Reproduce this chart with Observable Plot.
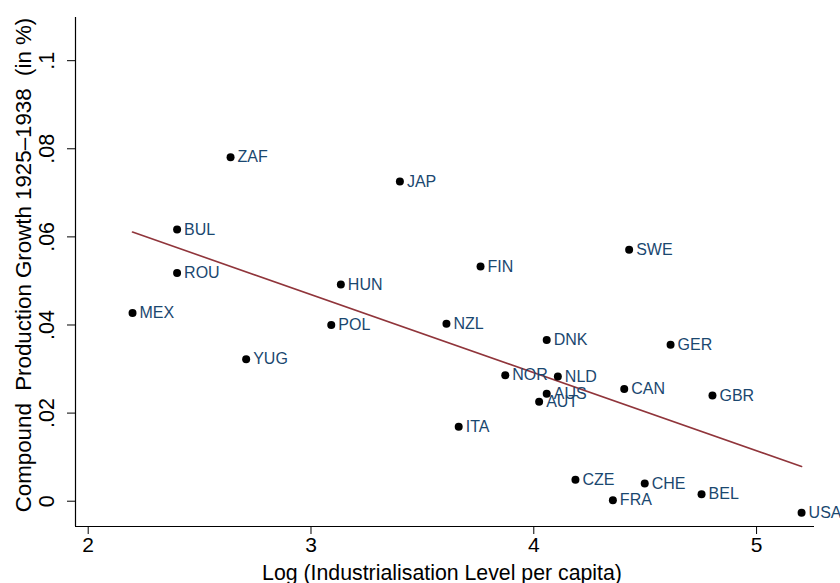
<!DOCTYPE html>
<html>
<head>
<meta charset="utf-8">
<script src="https://cdn.jsdelivr.net/npm/d3@7"></script>
<script src="https://cdn.jsdelivr.net/npm/@observablehq/plot@0.6"></script>
<style>
  html, body { margin: 0; padding: 0; background: #fff; }
  svg { font-family: "Liberation Sans", Arial, sans-serif; }
  g[aria-label="y-axis tick label"] { font-size: 21.5px; }
</style>
</head>
<body>
<div id="chart"></div>
<script>
const countries = ["ZAF","BUL","ROU","MEX","YUG","HUN","JAP","FIN","SWE","POL","NZL","DNK","NOR","NLD","AUS","AUT","ITA","CZE","GER","CAN","GBR","CHE","FRA","BEL","USA"];
const logIndustrialisation = [2.639,2.399,2.399,2.199,2.709,3.134,3.399,3.761,4.428,3.091,3.608,4.058,3.872,4.108,4.058,4.024,3.663,4.187,4.614,4.406,4.802,4.498,4.355,4.753,5.202];
const growth = [0.0781,0.0617,0.0518,0.0427,0.0322,0.0492,0.0726,0.0533,0.0571,0.0400,0.0403,0.0366,0.0286,0.0283,0.0244,0.0226,0.0169,0.0049,0.0355,0.0255,0.0240,0.0040,0.0002,0.0016,-0.0026];
const xTicks = [2,3,4,5];
const yTicks = [0,0.02,0.04,0.06,0.08,0.1];
const xDomain = [1.943, 5.26];
const yDomain = [-0.00574, 0.1098];
const xTitle = "Log (Industrialisation Level per capita)";
const yTitle = "Compound\u00a0\u00a0Production Growth 1925\u20131938\u00a0\u00a0(in %)";

const data = countries.map((c, i) => ({country: c, x: logIndustrialisation[i], y: growth[i]}));
const fmtY = d => d === 0 ? "0" : d3.format(".2~f")(d).replace(/^0/, "");

const chart = Plot.plot({
  width: 840,
  height: 583,
  marginLeft: 75,
  marginRight: 26,
  marginTop: 17,
  marginBottom: 57,
  style: {fontFamily: "Liberation Sans, Arial, sans-serif", background: "#fff", color: "#000"},
  x: {domain: xDomain},
  y: {domain: yDomain},
  marks: [
    Plot.axisX({ticks: xTicks, tickSize: 8, tickPadding: 3, fontSize: 21, tickFormat: d3.format("d"), label: null}),
    Plot.axisY({ticks: yTicks, tickSize: 8, tickPadding: 14, tickRotate: -90, fontSize: 21.5, tickFormat: fmtY, label: null}),
    Plot.text([xTitle], {frameAnchor: "bottom", textAnchor: "middle", lineAnchor: "bottom", dy: 53, dx: -3, fontSize: 21.3, fill: "#000"}),
    Plot.text([yTitle], {frameAnchor: "left", textAnchor: "middle", lineAnchor: "middle", dx: -52, dy: -7, rotate: -90, fontSize: 22.3, fill: "#000"}),
    Plot.ruleX([xDomain[0]], {stroke: "#000", strokeWidth: 1.2}),
    Plot.ruleY([yDomain[0]], {stroke: "#000", strokeWidth: 1.2}),
    Plot.linearRegressionY(data, {x: "x", y: "y", stroke: "#90353b", strokeWidth: 1.6, ci: 0}),
    Plot.dot(data, {x: "x", y: "y", r: 4, fill: "#000", stroke: null}),
    Plot.text(data, {x: "x", y: "y", text: "country", dx: 7, textAnchor: "start", fontSize: 16, fill: "#1a476f"})
  ]
});
document.getElementById("chart").appendChild(chart);
</script>
</body>
</html>
